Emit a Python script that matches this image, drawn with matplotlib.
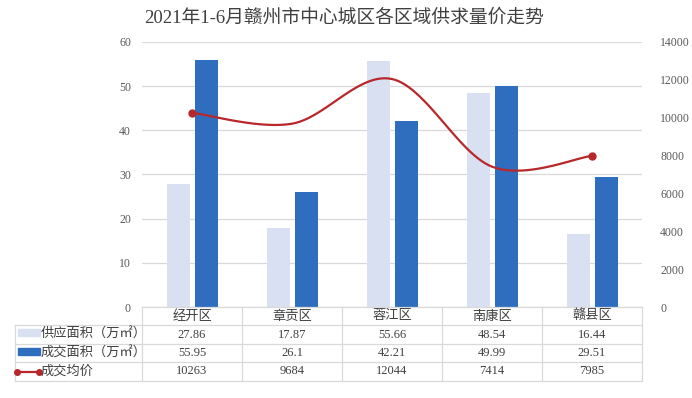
import numpy as np
import matplotlib
matplotlib.use('Agg')
import matplotlib.pyplot as plt
from matplotlib.patches import Rectangle
from matplotlib.lines import Line2D

plt.rcParams['font.family'] = ['Liberation Serif', 'Noto Sans CJK SC', 'DejaVu Sans']

# ── Data ──────────────────────────────────────────────────────────────
districts = ['经开区', '章贡区', '蓉江区', '南康区', '赣县区']
supply = [27.86, 17.87, 55.66, 48.54, 16.44]
deal = [55.95, 26.1, 42.21, 49.99, 29.51]
price = [10263, 9684, 12044, 7414, 7985]
row_names = ['供应面积（万㎡）', '成交面积（万㎡）', '成交均价']
price_labels = ['10263', '9684', '12044', '7414', '7985']

C_SUPPLY = '#d9e0f1'
C_DEAL = '#2f6ebf'
C_LINE = '#b8282a'
C_GRID = '#d9d9d9'
C_TEXT = '#404040'
C_TICK = '#595959'


def smooth(xs, ys, n=30):
    """Catmull-Rom spline through the points (like Excel's smoothed line)."""
    p = np.column_stack([xs, ys]).astype(float)
    p = np.vstack([p[0], p, p[-1]])
    out = []
    t = np.linspace(0, 1, n)
    for i in range(1, len(p) - 2):
        p0, p1, p2, p3 = p[i - 1], p[i], p[i + 1], p[i + 2]
        m1 = (p2 - p0) / 2
        m2 = (p3 - p1) / 2
        h00 = 2 * t**3 - 3 * t**2 + 1
        h10 = t**3 - 2 * t**2 + t
        h01 = -2 * t**3 + 3 * t**2
        h11 = t**3 - t**2
        seg = (np.outer(h00, p1) + np.outer(h10, m1)
               + np.outer(h01, p2) + np.outer(h11, m2))
        out.append(seg if i == 1 else seg[1:])
    out = np.vstack(out)
    return out[:, 0], out[:, 1]


fig = plt.figure(figsize=(6.92, 3.98), dpi=100)
ax = fig.add_axes([142 / 692, 91 / 398, 500 / 692, 265 / 398])
ax2 = ax.twinx()

x = np.arange(len(districts))
w = 0.23
ax.bar(x - 0.135, supply, w, color=C_SUPPLY, zorder=2)
ax.bar(x + 0.145, deal, w, color=C_DEAL, zorder=2)

sx, sy = smooth(x, price)
ax2.plot(sx, sy, color=C_LINE, linewidth=1.6, zorder=3)
ax2.plot([x[0], x[-1]], [price[0], price[-1]], 'o', color=C_LINE,
         markersize=5, zorder=4)

ax.set_xlim(-0.5, len(districts) - 0.5)
ax.set_ylim(0, 60)
ax.set_yticks(range(0, 61, 10))
ax2.set_ylim(0, 14000)
ax2.set_yticks(range(0, 14001, 2000))
ax.grid(True, axis='y', color=C_GRID, linewidth=0.9, zorder=0)
ax.set_axisbelow(True)
ax.set_xticks([])
for a in (ax, ax2):
    for s in a.spines.values():
        s.set_visible(False)
    a.tick_params(axis='y', length=0, labelsize=8.5, labelcolor=C_TICK)
ax.tick_params(axis='y', pad=8)
ax2.tick_params(axis='y', pad=13)

fig.text(0.497, 0.955, '2021年1-6月赣州市中心城区各区域供求量价走势',
         ha='center', va='center', fontsize=13.5, color=C_TEXT)

# ── Data table ────────────────────────────────────────────────────────
tab_left, tab_right = 15, 642
col_left = 142
row_edges = [307, 325, 344, 362, 381]
cw = (tab_right - col_left) / len(districts)


def fx(px):
    return px / 692


def fy(py):
    return 1 - py / 398


lines_kw = dict(color=C_GRID, linewidth=0.9)
# horizontal lines
fig.add_artist(Line2D([fx(col_left), fx(tab_right)], [fy(307), fy(307)], **lines_kw))
for yy in row_edges[1:]:
    fig.add_artist(Line2D([fx(tab_left), fx(tab_right)], [fy(yy), fy(yy)], **lines_kw))
# vertical lines
fig.add_artist(Line2D([fx(tab_left), fx(tab_left)], [fy(325), fy(381)], **lines_kw))
for i in range(len(districts) + 1):
    xx = col_left + i * cw
    fig.add_artist(Line2D([fx(xx), fx(xx)], [fy(307), fy(381)], **lines_kw))

rows = [[f'{v:g}' for v in supply], [f'{v:g}' for v in deal], price_labels]
for i, name in enumerate(districts):
    cx = col_left + (i + 0.5) * cw
    fig.text(fx(cx), fy(316), name, ha='center', va='center',
             fontsize=9.5, color=C_TEXT, family=['Noto Sans CJK SC'])
    for r in range(3):
        cy = (row_edges[r + 1] + row_edges[r + 2]) / 2
        fig.text(fx(cx), fy(cy), rows[r][i], ha='center', va='center',
                 fontsize=9, color=C_TEXT)

for r, name in enumerate(row_names):
    cy = (row_edges[r + 1] + row_edges[r + 2]) / 2
    fig.text(fx(41), fy(cy), name, ha='left', va='center', fontsize=9.5,
             color=C_TEXT, family=['Noto Sans CJK SC', 'DejaVu Sans'])

fig.add_artist(Rectangle((fx(18), fy(336)), fx(22), 7 / 398,
                         color=C_SUPPLY, transform=fig.transFigure))
fig.add_artist(Rectangle((fx(18), fy(355)), fx(22), 7 / 398,
                         color=C_DEAL, transform=fig.transFigure))
fig.add_artist(Line2D([fx(17), fx(39)], [fy(371.5), fy(371.5)], color=C_LINE,
                      linewidth=1.6, marker='o', markersize=4))

fig.savefig('out.png', dpi=100)
